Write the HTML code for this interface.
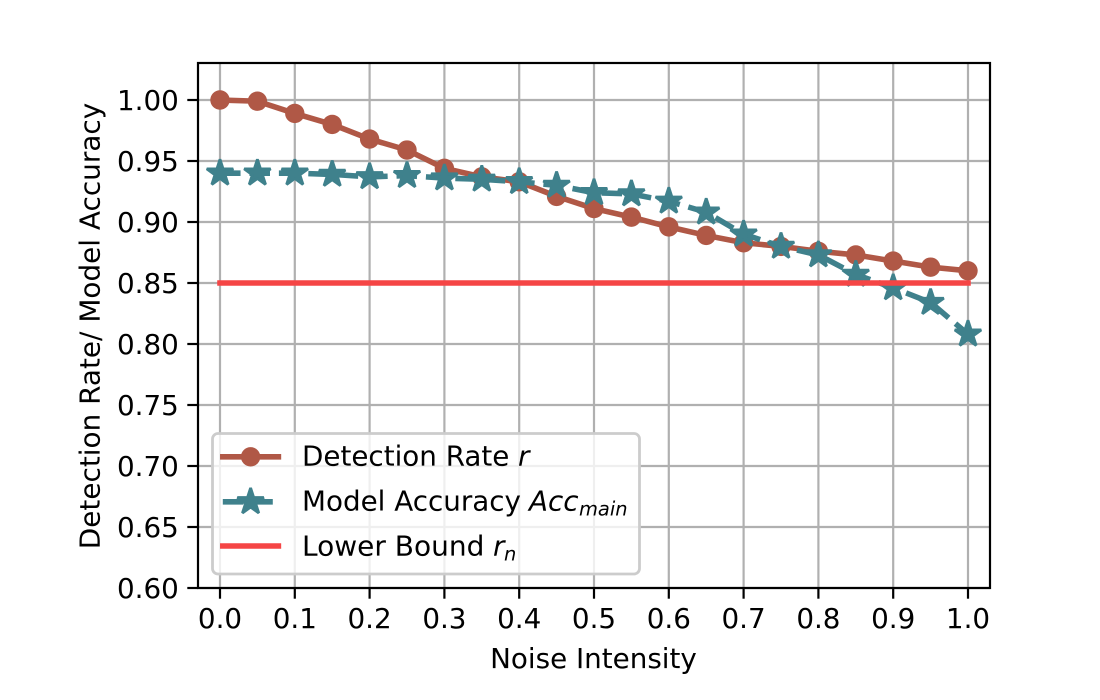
<!DOCTYPE html>
<html>
<head>
<meta charset="utf-8">
<title>Detection Rate and Model Accuracy vs Noise Intensity</title>
<style>
html,body{margin:0;padding:0;background:#fff;width:1100px;height:700px;overflow:hidden}
svg{display:block}
text{font-family:"DejaVu Sans","Liberation Sans",sans-serif;font-size:27.78px;fill:#000}
</style>
</head>
<body>
<svg id="chart" xmlns="http://www.w3.org/2000/svg" width="1100" height="700" viewBox="0 0 1100 700">
  <g id="grid"></g>
  <g id="series"></g>
  <rect x="198" y="63" width="792" height="525" fill="none" stroke="#000" stroke-width="2.2"/>
  <g id="ticks"></g>
  <text x="593.5" y="668" text-anchor="middle">Noise Intensity</text>
  <text transform="translate(99.5,326) rotate(-90)" text-anchor="middle" style="font-size:27.9px">Detection Rate/ Model Accuracy</text>
  <g id="legend">
    <rect x="212.5" y="433.5" width="427" height="140.5" rx="5.5" ry="5.5" fill="#fff" fill-opacity="0.8" stroke="#ccc" stroke-width="2.8"/>
    <g id="legend-handles"></g>
    <g>
      <text x="302" y="465.5">Detection Rate</text>
      <text x="518" y="465.5" font-style="italic">r</text>
    </g>
    <g>
      <text x="302" y="510.5">Model Accuracy</text>
      <text x="529" y="510.5" font-style="italic">Acc</text>
      <text x="579" y="515.5" font-style="italic" style="font-size:19.45px">main</text>
    </g>
    <g>
      <text x="302" y="555.5" style="font-size:28px">Lower Bound</text>
      <text x="493" y="555.5" font-style="italic">r</text>
      <text x="504" y="560.5" font-style="italic" style="font-size:19.45px">n</text>
    </g>
  </g>
</svg>
<script>
const noise = [0,0.05,0.1,0.15,0.2,0.25,0.3,0.35,0.4,0.45,0.5,0.55,0.6,0.65,0.7,0.75,0.8,0.85,0.9,0.95,1.0];
const detectionRate = [1.0,0.999,0.989,0.98,0.968,0.959,0.944,0.937,0.933,0.921,0.911,0.904,0.896,0.889,0.883,0.88,0.876,0.873,0.868,0.863,0.86];
const modelAccuracy = [0.94,0.94,0.94,0.939,0.937,0.938,0.936,0.935,0.933,0.93,0.924,0.923,0.917,0.908,0.89,0.88,0.873,0.857,0.846,0.834,0.808];
const lowerBound = [0.85,0.85];
const lowerBoundX = [0,1];
const xTickValues = [0,0.1,0.2,0.3,0.4,0.5,0.6,0.7,0.8,0.9,1.0];
const xTickLabels = ["0.0","0.1","0.2","0.3","0.4","0.5","0.6","0.7","0.8","0.9","1.0"];
const yTickValues = [0.6,0.65,0.7,0.75,0.8,0.85,0.9,0.95,1.0];
const yTickLabels = ["0.60","0.65","0.70","0.75","0.80","0.85","0.90","0.95","1.00"];

const NS = 'http://www.w3.org/2000/svg';
const sx = v => 220 + v * 748;
const sy = v => 588 - (v - 0.6) * 1220;
const BROWN = '#b05846', TEAL = '#3f818c', RED = '#f54545', GRID = '#b0b0b0';

function mk(tag, parent, attrs) {
  const el = document.createElementNS(NS, tag);
  for (const k in attrs) el.setAttribute(k, attrs[k]);
  parent.appendChild(el);
  return el;
}
function starPoints(cx, cy, r) {
  const pts = [];
  for (let i = 0; i < 10; i++) {
    const rad = i % 2 ? r * 0.381966 : r;
    const a = -Math.PI / 2 + i * Math.PI / 5;
    pts.push((cx + rad * Math.cos(a)).toFixed(2) + ',' + (cy + rad * Math.sin(a)).toFixed(2));
  }
  return pts.join(' ');
}
function linePoints(xs, ys) {
  return xs.map((x, i) => sx(x).toFixed(2) + ',' + sy(ys[i]).toFixed(2)).join(' ');
}

const gridG = document.getElementById('grid');
const ticksG = document.getElementById('ticks');
const seriesG = document.getElementById('series');
const handles = document.getElementById('legend-handles');

xTickValues.forEach((v, i) => {
  const g = mk('line', gridG, {x1: sx(v), x2: sx(v), y1: 63, y2: 588, stroke: GRID, 'stroke-width': 2.2});
  
  
  const t = mk('line', ticksG, {x1: sx(v), x2: sx(v), y1: 588, y2: 598.7, stroke: '#000', 'stroke-width': 2.2});
  
  
  const l = mk('text', ticksG, {x: sx(v), y: 628, 'text-anchor': 'middle'});
  l.textContent = xTickLabels[i];
  
  
});
yTickValues.forEach((v, i) => {
  const g = mk('line', gridG, {x1: 198, x2: 990, y1: sy(v), y2: sy(v), stroke: GRID, 'stroke-width': 2.2});
  
  
  const t = mk('line', ticksG, {x1: 187.3, x2: 198, y1: sy(v), y2: sy(v), stroke: '#000', 'stroke-width': 2.2});
  
  
  const l = mk('text', ticksG, {x: 178.8, y: sy(v) + 10.2, 'text-anchor': 'end'});
  l.textContent = yTickLabels[i];
  
  
});

/* Detection rate series */
const detLine = mk('polyline', seriesG, {points: linePoints(noise, detectionRate), fill: 'none', stroke: BROWN, 'stroke-width': 5.56, 'stroke-linejoin': 'round', 'stroke-linecap': 'square'});


noise.forEach((x, i) => {
  const c = mk('circle', seriesG, {cx: sx(x), cy: sy(detectionRate[i]), r: 9.7, fill: BROWN});
  
  
});

/* Model accuracy series */
const accLine = mk('polyline', seriesG, {points: linePoints(noise, modelAccuracy), fill: 'none', stroke: TEAL, 'stroke-width': 5.56, 'stroke-linejoin': 'round', 'stroke-dasharray': '20.55 8.89'});


noise.forEach((x, i) => {
  const s = mk('polygon', seriesG, {points: starPoints(sx(x), sy(modelAccuracy[i]), 13.9), fill: TEAL, stroke: TEAL, 'stroke-width': 2.78, 'stroke-linejoin': 'bevel'});
  
  
});

/* Lower bound series */
const lbLine = mk('polyline', seriesG, {points: linePoints(lowerBoundX, lowerBound), fill: 'none', stroke: RED, 'stroke-width': 5.56, 'stroke-linecap': 'square'});



/* Legend handles */
const h1 = mk('line', handles, {x1: 222.8, x2: 278.4, y1: 456.8, y2: 456.8, stroke: BROWN, 'stroke-width': 5.56, 'stroke-linecap': 'square'});


const h1m = mk('circle', handles, {cx: 250.6, cy: 456.8, r: 9.7, fill: BROWN});


const h2 = mk('line', handles, {x1: 222.8, x2: 278.4, y1: 501.8, y2: 501.8, stroke: TEAL, 'stroke-width': 5.56, 'stroke-dasharray': '20.55 8.89'});


const h2m = mk('polygon', handles, {points: starPoints(250.6, 501.8, 13.9), fill: TEAL, stroke: TEAL, 'stroke-width': 2.78, 'stroke-linejoin': 'bevel'});


const h3 = mk('line', handles, {x1: 222.8, x2: 278.4, y1: 546, y2: 546, stroke: RED, 'stroke-width': 5.56, 'stroke-linecap': 'square'});


</script>
</body>
</html>
